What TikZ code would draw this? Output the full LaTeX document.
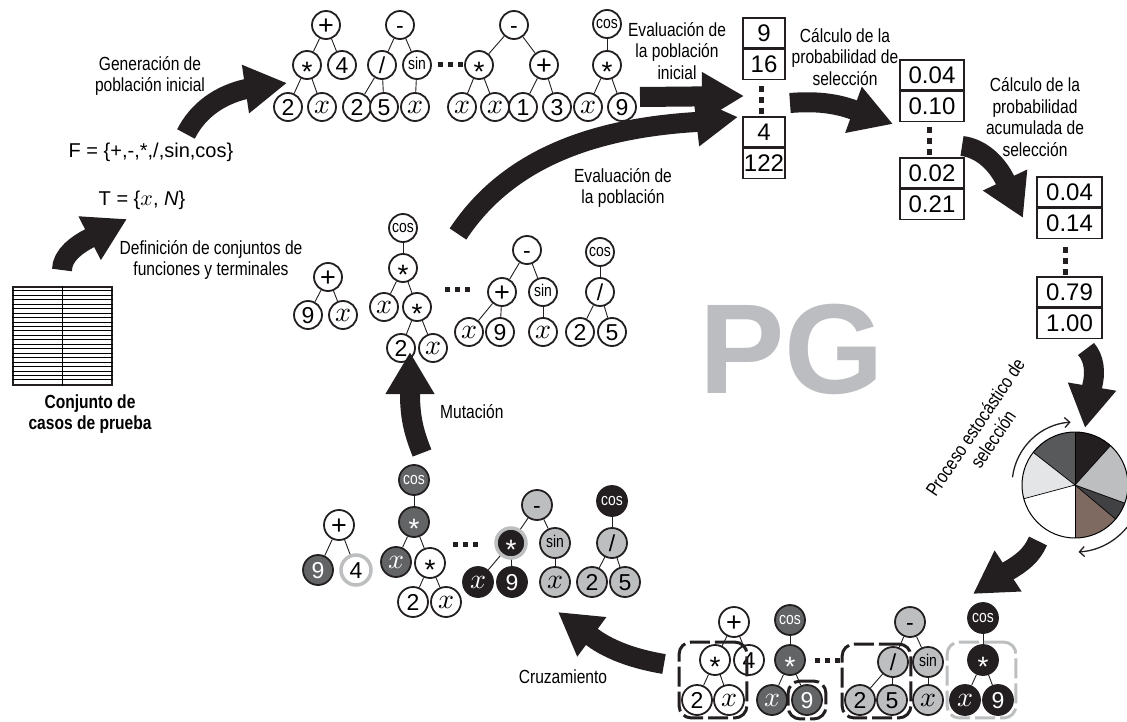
\documentclass[tikz,border=0pt]{standalone}
\usepackage{fontspec}
\setmainfont{Liberation Sans}
\newfontfamily\narrowfont[FakeStretch=0.82]{Liberation Sans}
\DeclareFontShape{OML}{cmm}{m}{it}{<->cmmi10}{}
\usetikzlibrary{arrows.meta,positioning,fit}

\definecolor{gpblack}{HTML}{231F20}
\definecolor{gpdark}{HTML}{636466}
\definecolor{gplight}{HTML}{BCBEC0}
\definecolor{pggray}{HTML}{BCBDC0}
\definecolor{pieshade}{HTML}{58595B}
\definecolor{piedeep}{HTML}{414042}
\definecolor{piepale}{HTML}{E4E5E6}
\definecolor{piebrown}{HTML}{7F6A62}

\newcommand{\lbl}{\narrowfont\fontsize{19}{21.5}\selectfont}
\newcommand{\opfont}{\narrowfont\fontsize{17}{17}\selectfont}
\newcommand{\ms}{{\fontsize{28}{28}\selectfont\raisebox{-8pt}{*}}}
\newcommand{\mpl}{{\fontsize{27}{27}\selectfont\raisebox{-1.3pt}{+}}}
\newcommand{\vx}{{\fontsize{28}{28}\selectfont\raisebox{2.2pt}{$x$}}}
\newcommand{\rowdots}[1]{\foreach \k in {-1,0,1} \fill[gpblack, shift={(#1)}] (\k*10-2.5,-2.5) rectangle ++(5,5);}
\newcommand{\coldots}[1]{\foreach \k in {-1,0,1} \fill[gpblack, shift={(#1)}] (-2.5,\k*11-3) rectangle ++(5,6);}

\tikzset{
  gn/.style={circle, draw=gpblack, line width=1.8, fill=white, minimum size=28, inner sep=0,
    font=\fontsize{23}{23}\selectfont, text height=16.5, text depth=0},
  gbig/.style={gn, minimum size=30},
  fn/.style={font=\opfont, text height=8.8},
  gdk/.style={fill=gpdark, text=white},
  glt/.style={fill=gplight},
  gbk/.style={fill=gpblack, text=white},
  gring/.style={draw=gplight, line width=3.5},
  ed/.style={line width=0.9, draw=gpblack},
  bx/.style={draw=gpblack, line width=1.1, minimum height=30, inner sep=0,
    font=\fontsize{24}{24}\selectfont, text height=17, text depth=0},
  lab/.style={align=center, font=\lbl, inner sep=0},
  bigarrow/.style={line width=20, draw=gpblack, -{Triangle[length=42pt, width=46pt]}},
  selbox/.style={draw=gpblack, line width=3, rounded corners=12, dash pattern=on 20pt off 5pt, inner sep=2},
  spin/.style={line width=1.3, draw=gpblack, -{Straight Barb[length=5pt, width=10pt]}},
}

\begin{document}
\begin{tikzpicture}[x=1pt, y=-1pt]
\useasboundingbox (0,0) rectangle (1127,722);

% casos de prueba
\node[draw=gpblack, line width=1.2, minimum width=99, minimum height=98, inner sep=0] (casos) at (62.5,336) {};
\draw[line width=1] (casos.north) -- (casos.south);
\foreach \i in {1,...,21}
  \draw[line width=0.9] ([yshift=-\i*4.45pt]casos.north west) -- ([yshift=-\i*4.45pt]casos.north east);
\node[lab, font=\lbl\bfseries] (casoslab) at (90,414) {Conjunto de\\casos de prueba};

% conjuntos F y T
\node[font=\fontsize{20}{20}\selectfont] (fset) at (151,152) {F = \{+,-,*,/,sin,cos\}};
\node[font=\fontsize{20}{20}\selectfont] (tset) at (142,200) {T = \{{\fontsize{22}{22}\selectfont$x$}, \textit{N}\}};
\node[lab] (deflab) at (211,260) {Definición de conjuntos de\\funciones y terminales};
\node[lab] (genlab) at (150,76) {Generación de\\población inicial};

% poblacion inicial
\node[gn] (a1) at (326,25) {\mpl};
\node[gn] (a2) at (307,65) {\ms};
\node[gn] (a3) at (342,65) {4};
\node[gn] (a4) at (288,107) {2};
\node[gn] (a5) at (322,107) {\vx};
\node[gn] (b1) at (400,25) {-};
\node[gn] (b2) at (382,65) {/};
\node[gn, fn] (b3) at (417,65) {sin};
\node[gn] (b4) at (357,107) {2};
\node[gn] (b5) at (384,107) {5};
\node[gn] (b6) at (415,107) {\vx};
\node[gn] (c1) at (514,25) {-};
\node[gn] (c2) at (479,65) {\ms};
\node[gn] (c3) at (544,65) {\mpl};
\node[gn] (c4) at (462,107) {\vx};
\node[gn] (c5) at (495,107) {\vx};
\node[gn] (c6) at (523,107) {1};
\node[gn] (c7) at (557,107) {3};
\node[gn, fn] (d1) at (607,24) {cos};
\node[gn] (d2) at (607,65) {\ms};
\node[gn] (d3) at (588,107) {\vx};
\node[gn] (d4) at (622,107) {9};
\foreach \p/\c in {a1/a2, a1/a3, a2/a4, a2/a5, b1/b2, b1/b3, b2/b4, b2/b5, b3/b6,
    c1/c2, c1/c3, c2/c4, c2/c5, c3/c6, c3/c7, d1/d2, d2/d3, d2/d4}
  \draw[ed] (\p) -- (\c);
\coordinate (dtop) at (450,65);
\rowdots{dtop}

% poblacion actual
\node[gn] (e1) at (328,277) {\mpl};
\node[gn] (e2) at (308,315) {9};
\node[gn] (e3) at (343,315) {\vx};
\node[gn, fn] (f1) at (403,228) {cos};
\node[gn] (f2) at (403,268) {\ms};
\node[gn] (f3) at (384,307) {\vx};
\node[gn] (f4) at (417,307) {\ms};
\node[gn] (f5) at (401,348) {2};
\node[gn] (f6) at (433,348) {\vx};
\node[gn] (g1) at (527,250) {-};
\node[gn] (g2) at (502,292) {\mpl};
\node[gn, fn] (g3) at (543,292) {sin};
\node[gn] (g4) at (469,332) {\vx};
\node[gn] (g5) at (500,332) {9};
\node[gn] (g6) at (543,332) {\vx};
\node[gn, fn] (h1) at (600,252) {cos};
\node[gn] (h2) at (600,292) {/};
\node[gn] (h3) at (580,332) {2};
\node[gn] (h4) at (612,332) {5};
\foreach \p/\c in {e1/e2, e1/e3, f1/f2, f2/f3, f2/f4, f4/f5, f4/f6, g1/g2, g1/g3,
    g2/g4, g2/g5, g3/g6, h1/h2, h2/h3, h2/h4}
  \draw[ed] (\p) -- (\c);
\coordinate (dmid) at (457,289);
\rowdots{dmid}

% tras la mutacion
\node[gbig] (i1) at (339,525) {\mpl};
\node[gbig, gdk] (i2) at (318,570) {9};
\node[gbig, gring] (i3) at (356,570) {4};
\node[gbig, gdk, fn] (j1) at (414,480) {cos};
\node[gbig, gdk] (j2) at (414,522) {\ms};
\node[gbig, gdk] (j3) at (396,562) {\vx};
\node[gbig] (j4) at (430,563) {\ms};
\node[gbig] (j5) at (413,602) {2};
\node[gbig] (j6) at (446,602) {\vx};
\node[gbig, glt] (k1) at (537,505) {-};
\node[gbig, gbk, gring] (k2) at (511,543) {\ms};
\node[gbig, glt, fn] (k3) at (555,543) {sin};
\node[gbig, gbk] (k4) at (478,582) {\vx};
\node[gbig, gbk] (k5) at (512,582) {9};
\node[gbig, glt] (k6) at (555,582) {\vx};
\node[gbig, gbk, fn] (l1) at (612,501) {cos};
\node[gbig, glt] (l2) at (612,543) {/};
\node[gbig, glt] (l3) at (592,582) {2};
\node[gbig, glt] (l4) at (625,582) {5};
\foreach \p/\c in {i1/i2, i1/i3, j1/j2, j2/j3, j2/j4, j4/j5, j4/j6, k1/k2, k1/k3,
    k2/k4, k2/k5, k3/k6, l1/l2, l2/l3, l2/l4}
  \draw[ed] (\p) -- (\c);
\coordinate (dlow) at (465,544);
\rowdots{dlow}

% seleccionados para cruzamiento
\node[gbig] (m1) at (734,622) {\mpl};
\node[gbig] (m2) at (715,660) {\ms};
\node[gbig] (m3) at (749,660) {4};
\node[gbig] (m4) at (697,700) {2};
\node[gbig] (m5) at (729,700) {\vx};
\node[gbig, gdk, fn] (n1) at (790,620) {cos};
\node[gbig, gdk] (n2) at (790,660) {\ms};
\node[gbig, gdk] (n3) at (772,700) {\vx};
\node[gbig, gdk] (n4) at (807,700) {9};
\node[gbig, glt] (o1) at (910,622) {-};
\node[gbig, glt] (o2) at (893,662) {/};
\node[gbig, glt, fn] (o3) at (928,662) {sin};
\node[gbig, glt] (o4) at (860,700) {2};
\node[gbig, glt] (o5) at (892,700) {5};
\node[gbig, glt] (o6) at (928,700) {\vx};
\node[gbig, gbk, fn] (q1) at (983,618) {cos};
\node[gbig, gbk] (q2) at (983,660) {\ms};
\node[gbig, gbk] (q3) at (965,700) {\vx};
\node[gbig, gbk] (q4) at (998,700) {9};
\foreach \p/\c in {m1/m2, m1/m3, m2/m4, m2/m5, n1/n2, n2/n3, n2/n4, o1/o2, o1/o3,
    o2/o4, o2/o5, o3/o6, q1/q2, q2/q3, q2/q4}
  \draw[ed] (\p) -- (\c);
\coordinate (dright) at (827,660);
\rowdots{dright}
\node[selbox, fit=(m2)(m4)(m5)] (cut1) {};
\node[selbox, fit=(n4), inner sep=3] (cut2) {};
\node[selbox, fit=(o2)(o4)(o5)] (cut3) {};
\node[selbox, draw=gplight, fit=(q2)(q3)(q4)] (cut4) {};

% aptitud
\node[bx, minimum width=42] (ev1) at (764,33) {9};
\node[bx, minimum width=42, below=0pt of ev1] (ev2) {16};
\node[bx, minimum width=42] (ev3) at (764,132) {4};
\node[bx, minimum width=42, below=0pt of ev3] (ev4) {122};
\coordinate (evdots) at (761,100);
\coldots{evdots}

\node[bx, minimum width=64] (pr1) at (932,75) {0.04};
\node[bx, minimum width=64, below=0pt of pr1] (pr2) {0.10};
\node[bx, minimum width=64] (pr3) at (932,173) {0.02};
\node[bx, minimum width=64, below=0pt of pr3] (pr4) {0.21};
\coordinate (prdots) at (929,141);
\coldots{prdots}

\node[bx, minimum width=65] (ac1) at (1069.5,192) {0.04};
\node[bx, minimum width=65, below=0pt of ac1] (ac2) {0.14};
\node[bx, minimum width=65] (ac3) at (1069.5,292) {0.79};
\node[bx, minimum width=65, below=0pt of ac3] (ac4) {1.00};
\coordinate (acdots) at (1065,261);
\coldots{acdots}

\node[lab] (evilab) at (677,51) {Evaluación de\\la población\\inicial};
\node[lab] (problab) at (845,57) {Cálculo de la\\probabilidad de\\selección};
\node[lab] (acumlab) at (1035,117) {Cálculo de la\\probabilidad\\acumulada de\\selección};
\node[lab] (evlab) at (623,188) {Evaluación de\\la población};
\node[lab, anchor=west] (mutlab) at (440,412) {Mutación};
\node[lab] (cruzlab) at (563,677) {Cruzamiento};

\node[text=pggray, font=\bfseries\fontsize{128}{128}\selectfont, inner sep=0] (pg) at (792,349) {PG};

% ruleta
\coordinate (pie) at (1075,485);
\begin{scope}[shift={(pie)}, y=1pt]
  \fill[gpblack] (0,0) -- (48:53) arc (48:90:53) -- cycle;
  \fill[gplight] (0,0) -- (-20:53) arc (-20:48:53) -- cycle;
  \fill[piedeep] (0,0) -- (-40:53) arc (-40:-20:53) -- cycle;
  \fill[piebrown] (0,0) -- (-90:53) arc (-90:-40:53) -- cycle;
  \fill[white] (0,0) -- (-165:53) arc (-165:-90:53) -- cycle;
  \fill[piepale] (0,0) -- (142:53) arc (142:195:53) -- cycle;
  \fill[pieshade] (0,0) -- (90:53) arc (90:142:53) -- cycle;
  \foreach \a in {48,-20,-40,-90,-165,142,90}
    \draw[line width=0.7] (0,0) -- (\a:53);
  \draw[line width=1] (0,0) circle (53);
  \draw[spin] (173:63) arc (173:94:63);
  \draw[spin] (-39:67) arc (-39:-87:67);
\end{scope}
\node[lab, rotate=56] (proclab) at (984,433) {Proceso estocástico de\\selección};

% flechas del proceso
\coordinate (defT) at (62,270);   \coordinate (defH) at (127,219);
\coordinate (genT) at (186,134);  \coordinate (genH) at (287,83);
\coordinate (eviT) at (640,97);   \coordinate (eviH) at (744,96);
\coordinate (evT) at (458,234);   \coordinate (evH) at (738,117);
\coordinate (prT) at (790,103);   \coordinate (prH) at (893,124);
\coordinate (acT) at (962,146);   \coordinate (acH) at (1023,218);
\coordinate (ruT) at (1086,349);  \coordinate (ruH) at (1085,428);
\coordinate (selT) at (1038,541); \coordinate (selH) at (973,594);
\coordinate (cruT) at (664,664);  \coordinate (cruH) at (558,612);
\coordinate (mutT) at (422,453);  \coordinate (mutH) at (410,352);

\draw[bigarrow] (defT) .. controls (62,255) and (78,244) .. (90,238) -- (defH);
\draw[bigarrow] (genT) .. controls (198,110) and (220,95) .. (246,89) -- (genH);
\draw[bigarrow] (eviT) -- (eviH);
\draw[bigarrow] (evT) .. controls (510,155) and (600,128) .. (696,122) -- (evH);
\draw[bigarrow] (prT) .. controls (815,101) and (835,103) .. (854,110) -- (prH);
\draw[bigarrow] (acT) .. controls (980,148) and (996,162) .. (1005,180) -- (acH);
\draw[bigarrow] (ruT) .. controls (1094,358) and (1096,372) .. (1092,387) -- (ruH);
\draw[bigarrow] (selT) .. controls (1032,555) and (1022,563) .. (1008,571) -- (selH);
\draw[bigarrow] (cruT) .. controls (640,660) and (612,652) .. (592,637) -- (cruH);
\draw[bigarrow] (mutT) .. controls (415,435) and (410,420) .. (410,394) -- (mutH);

\end{tikzpicture}
\end{document}
